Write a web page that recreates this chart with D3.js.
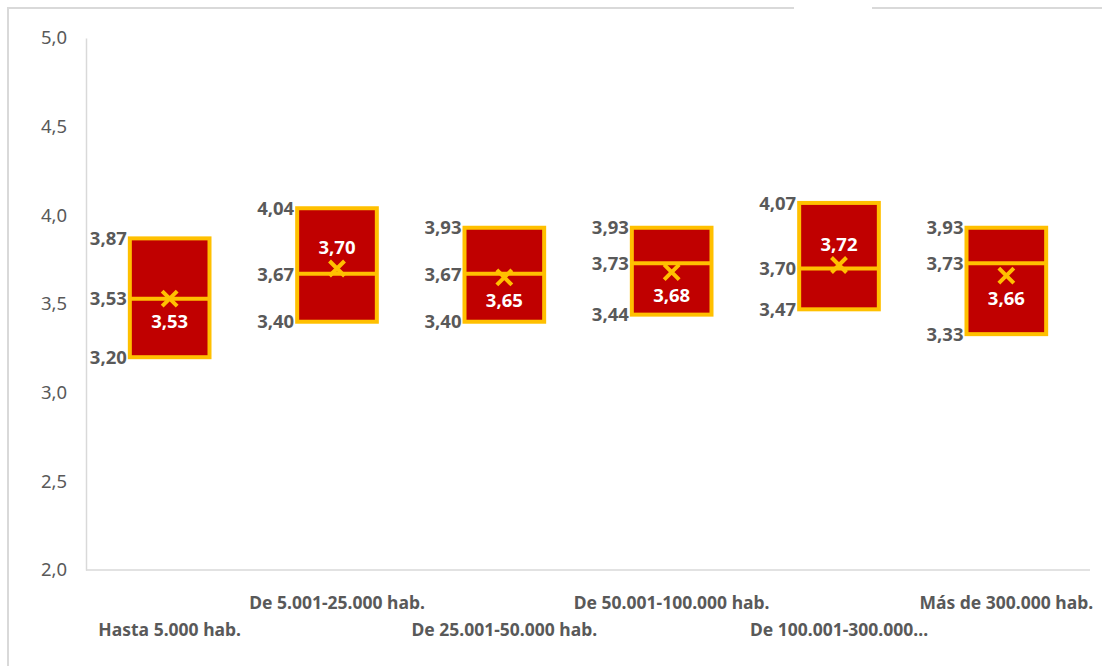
<!DOCTYPE html>
<html>
<head>
<meta charset="utf-8">
<script src="https://cdn.jsdelivr.net/npm/d3@7"></script>
<style>
  html, body { margin: 0; padding: 0; background: #fff; }
  svg { display: block; }
  text { font-family: "Noto Sans", "Open Sans", sans-serif; }
</style>
</head>
<body>
<svg id="chart" width="1102" height="666"></svg>
<script>
// Population size groups
const categories = [
  "Hasta 5.000 hab.",
  "De 5.001-25.000 hab.",
  "De 25.001-50.000 hab.",
  "De 50.001-100.000 hab.",
  "De 100.001-300.000...",
  "Más de 300.000 hab."
];
// Box statistics per group
const q1Values     = [3.20, 3.40, 3.40, 3.44, 3.47, 3.33];
const medianValues = [3.53, 3.67, 3.67, 3.73, 3.70, 3.73];
const q3Values     = [3.87, 4.04, 3.93, 3.93, 4.07, 3.93];
const meanValues   = [3.53, 3.70, 3.65, 3.68, 3.72, 3.66];
const yTicks = [2.0, 2.5, 3.0, 3.5, 4.0, 4.5, 5.0];

const rows = categories.map((c, i) => ({
  cat: c, i, q1: q1Values[i], med: medianValues[i], q3: q3Values[i], mean: meanValues[i]
}));

const svg = d3.select("#chart");
const fmt = v => d3.format(".2f")(v).replace(".", ",");
const fmt1 = v => d3.format(".1f")(v).replace(".", ",");

const GOLD = "#FFC000", RED = "#C00000", GREY = "#595959", LINE = "#d9d9d9";

// outer frame of the chart area
svg.append("path")
  .attr("d", "M8,666 L8,8 L794,8 M872,8 L1102,8")
  .attr("fill", "none").attr("stroke", LINE).attr("stroke-width", 2);

const plotLeft = 86, plotRight = 1090, plotTop = 38, plotBottom = 570;

const x = d3.scaleBand().domain(categories).range([plotLeft, plotRight])
  .paddingInner(0.5).paddingOuter(0.25);
const y = d3.scaleLinear().domain([2, 5]).range([plotBottom, plotTop]);

// axes
const yAxis = svg.append("g").attr("transform", `translate(${plotLeft},0)`)
  .call(d3.axisLeft(y).tickValues(yTicks).tickFormat(fmt1).tickSize(0).tickPadding(19));
yAxis.select(".domain").attr("stroke", LINE).attr("stroke-width", 1.5);
yAxis.selectAll("text").attr("fill", GREY).style("font-size", "18.5px");

const xAxis = svg.append("g").attr("transform", `translate(0,${plotBottom})`)
  .call(d3.axisBottom(x).tickSize(0).tickFormat(""));
xAxis.select(".domain").attr("stroke", LINE).attr("stroke-width", 1.5)
  .attr("d", `M${plotLeft},0H${plotRight}`);

// staggered category labels
svg.append("g").selectAll("text").data(rows).join("text")
  .attr("x", d => x(d.cat) + x.bandwidth() / 2)
  .attr("y", d => d.i % 2 === 0 ? 636 : 609)
  .attr("text-anchor", "middle")
  .attr("fill", GREY).style("font-size", "17.5px").style("font-weight", "bold")
  .text(d => d.cat);

const bw = x.bandwidth();
const g = svg.append("g");

// boxes
g.selectAll("rect.box").data(rows).join("rect").attr("class", "box")
  .attr("x", d => x(d.cat) + 2).attr("width", bw - 4)
  .attr("y", d => y(d.q3)).attr("height", d => y(d.q1) - y(d.q3))
  .attr("fill", RED).attr("stroke", GOLD).attr("stroke-width", 4);

// medians
g.selectAll("line.med").data(rows).join("line").attr("class", "med")
  .attr("x1", d => x(d.cat) + 2).attr("x2", d => x(d.cat) + bw - 2)
  .attr("y1", d => y(d.med)).attr("y2", d => y(d.med))
  .attr("stroke", GOLD).attr("stroke-width", 4);

// mean markers (x)
const s = 7.5;
g.selectAll("path.mean").data(rows).join("path").attr("class", "mean")
  .attr("d", d => {
    const cx = x(d.cat) + bw / 2, cy = y(d.mean);
    return `M${cx - s},${cy - s}L${cx + s},${cy + s}M${cx - s},${cy + s}L${cx + s},${cy - s}`;
  })
  .attr("stroke", GOLD).attr("stroke-width", 4).attr("fill", "none");

// quartile / median value labels on the left side of each box
const side = rows.flatMap(d => [d.q3, d.med, d.q1].map(v => ({ d, v })));
g.selectAll("text.side").data(side).join("text").attr("class", "side")
  .attr("x", p => x(p.d.cat) - 1)
  .attr("y", p => y(p.v))
  .attr("dy", "0.36em")
  .attr("text-anchor", "end")
  .attr("fill", GREY).style("font-size", "18.5px").style("font-weight", "bold")
  .text(p => fmt(p.v));

// mean value labels inside the boxes (above the marker when the mean sits above the median)
g.selectAll("text.meanlab").data(rows).join("text").attr("class", "meanlab")
  .attr("x", d => x(d.cat) + bw / 2)
  .attr("y", d => y(d.mean) + (d.mean > d.med ? -21 : 23))
  .attr("dy", "0.36em")
  .attr("text-anchor", "middle")
  .attr("fill", "#ffffff").style("font-size", "18.5px").style("font-weight", "bold")
  .text(d => fmt(d.mean));
</script>
</body>
</html>
